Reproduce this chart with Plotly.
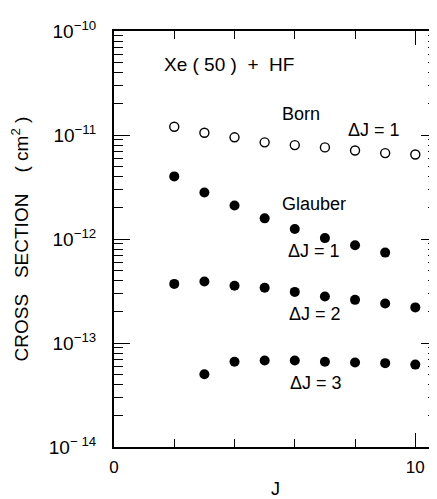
import plotly.graph_objects as go

# Data
j_born = [2, 3, 4, 5, 6, 7, 8, 9, 10]
sigma_born = [1.2e-11, 1.05e-11, 9.5e-12, 8.5e-12, 8.0e-12, 7.6e-12, 7.1e-12, 6.7e-12, 6.5e-12]

j_gl1 = [2, 3, 4, 5, 6, 7, 8, 9]
sigma_gl1 = [4.0e-12, 2.8e-12, 2.1e-12, 1.58e-12, 1.25e-12, 1.02e-12, 8.7e-13, 7.4e-13]

j_gl2 = [2, 3, 4, 5, 6, 7, 8, 9, 10]
sigma_gl2 = [3.7e-13, 3.9e-13, 3.55e-13, 3.4e-13, 3.1e-13, 2.8e-13, 2.6e-13, 2.4e-13, 2.2e-13]

j_gl3 = [3, 4, 5, 6, 7, 8, 9, 10]
sigma_gl3 = [5.0e-14, 6.6e-14, 6.8e-14, 6.8e-14, 6.6e-14, 6.5e-14, 6.4e-14, 6.2e-14]

y_tickvals = [1e-14, 1e-13, 1e-12, 1e-11, 1e-10]
y_ticktext = ["10<sup>− 14</sup>", "10<sup>−13</sup>", "10<sup>−12</sup>", "10<sup>−11</sup>", "10<sup>−10</sup>"]
x_tickvals = [0, 10]
x_ticktext = ["0", "10"]

FONT = "Liberation Sans"
NB = "\u00a0"

fig = go.Figure()
fig.add_trace(go.Scatter(x=j_born, y=sigma_born, mode="markers",
                         marker=dict(symbol="circle-open", size=9, color="black", line=dict(width=1.4, color="black")),
                         showlegend=False))
for jj, ss in [(j_gl1, sigma_gl1), (j_gl2, sigma_gl2), (j_gl3, sigma_gl3)]:
    fig.add_trace(go.Scatter(x=jj, y=ss, mode="markers",
                             marker=dict(symbol="circle", size=10, color="black"),
                             showlegend=False))

# (text, left x in J units, log10 y, font size)
labels = [
    ("Xe" + NB + "(" + NB + "50" + NB + ")" + NB * 2 + "+" + NB * 2 + "HF", 1.58, -10.32, 19),
    ("Born", 5.50, -10.80, 18),
    ("ΔJ = 1", 7.70, -10.95, 18),
    ("Glauber", 5.50, -11.66, 18),
    ("ΔJ = 1", 5.72, -12.12, 18),
    ("ΔJ = 2", 5.75, -12.72, 18),
    ("ΔJ = 3", 5.78, -13.38, 18),
]
for text, x, y, sz in labels:
    fig.add_annotation(x=x, y=y, xref="x", yref="y", text=text, showarrow=False,
                       xanchor="left",
                       font=dict(family=FONT, size=sz, color="black"))

# The page body adds an 8 px margin, so the figure is sized/offset to compensate.
fig.update_layout(
    width=429, height=491,
    margin=dict(l=106, r=0, t=23, b=52),
    paper_bgcolor="white", plot_bgcolor="white",
    font=dict(family=FONT, color="black"),
    xaxis=dict(
        range=[0, 10.72], showgrid=False, zeroline=False, automargin=False,
        showline=True, linewidth=2, linecolor="black", mirror="allticks",
        tickmode="array", tickvals=x_tickvals, ticktext=x_ticktext,
        ticks="inside", ticklen=14, tickwidth=1, tickcolor="black",
        tickfont=dict(size=17), ticklabelstandoff=4,
        minor=dict(tickmode="array", tickvals=[2, 4, 6, 8], ticks="inside", ticklen=8, tickwidth=1, tickcolor="black", showgrid=False),
        title=dict(text="J", font=dict(size=18), standoff=12),
    ),
    yaxis=dict(
        type="log", range=[-14, -10], showgrid=False, zeroline=False, automargin=False,
        showline=True, linewidth=2, linecolor="black", mirror="allticks",
        tickmode="array", tickvals=y_tickvals, ticktext=y_ticktext,
        ticks="inside", ticklen=16, tickwidth=1, tickcolor="black",
        tickfont=dict(size=19), ticklabelstandoff=12,
        minor=dict(dtick="D1", ticks="inside", ticklen=9, tickwidth=1, tickcolor="black", showgrid=False),
        title=dict(text="CROSS   SECTION    ( cm<sup>2</sup> )", font=dict(size=19), standoff=16),
    ),
)

fig.write_html("out.html")
